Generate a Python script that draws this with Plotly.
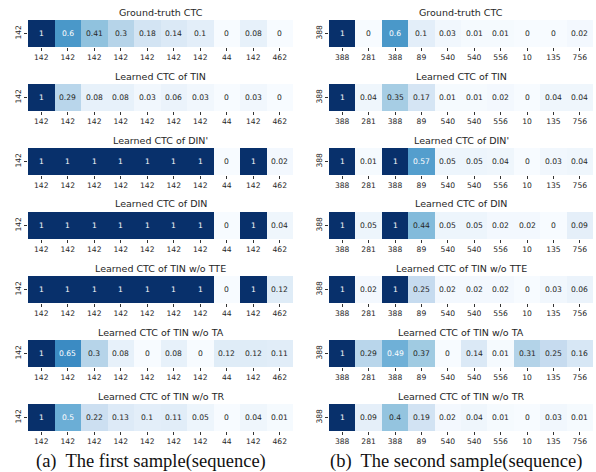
import plotly.graph_objects as go

W, H = 596, 472

titles = [
    "Ground-truth CTC",
    "Learned CTC of TIN",
    "Learned CTC of DIN'",
    "Learned CTC of DIN",
    "Learned CTC of TIN w/o TTE",
    "Learned CTC of TIN w/o TA",
    "Learned CTC of TIN w/o TR",
]

labels_a = ["142", "142", "142", "142", "142", "142", "142", "44", "142", "462"]
labels_b = ["388", "281", "388", "89", "540", "540", "556", "10", "135", "756"]
row_label_a = "142"
row_label_b = "388"

gt_a = [1, 0.6, 0.41, 0.3, 0.18, 0.14, 0.1, 0, 0.08, 0]
tin_a = [1, 0.29, 0.08, 0.08, 0.03, 0.06, 0.03, 0, 0.03, 0]
dinp_a = [1, 1, 1, 1, 1, 1, 1, 0, 1, 0.02]
din_a = [1, 1, 1, 1, 1, 1, 1, 0, 1, 0.04]
notte_a = [1, 1, 1, 1, 1, 1, 1, 0, 1, 0.12]
nota_a = [1, 0.65, 0.3, 0.08, 0, 0.08, 0, 0.12, 0.12, 0.11]
notr_a = [1, 0.5, 0.22, 0.13, 0.1, 0.11, 0.05, 0, 0.04, 0.01]

gt_b = [1, 0, 0.6, 0.1, 0.03, 0.01, 0.01, 0, 0, 0.02]
tin_b = [1, 0.04, 0.35, 0.17, 0.01, 0.01, 0.02, 0, 0.04, 0.04]
dinp_b = [1, 0.01, 1, 0.57, 0.05, 0.05, 0.04, 0, 0.03, 0.04]
din_b = [1, 0.05, 1, 0.44, 0.05, 0.05, 0.02, 0.02, 0, 0.09]
notte_b = [1, 0.02, 1, 0.25, 0.02, 0.02, 0.02, 0, 0.03, 0.06]
nota_b = [1, 0.29, 0.49, 0.37, 0, 0.14, 0.01, 0.31, 0.25, 0.16]
notr_b = [1, 0.09, 0.4, 0.19, 0.02, 0.04, 0.01, 0, 0.03, 0.01]

series_a = [gt_a, tin_a, dinp_a, din_a, notte_a, nota_a, notr_a]
series_b = [gt_b, tin_b, dinp_b, din_b, notte_b, nota_b, notr_b]

captions = ["(a)\u00a0 The first sample(sequence)", "(b)\u00a0 The second sample(sequence)"]
caption_cx = [151, 456]

tops = [20, 84, 148, 212, 276, 340, 404]
cell_h = 27
cols_px = [(28, 293), (329, 593)]

fig = go.Figure()
annotations = []
k = 0
for c, (series, labels, rlab) in enumerate([(series_a, labels_a, row_label_a),
                                            (series_b, labels_b, row_label_b)]):
    x0, x1 = cols_px[c]
    for r, vals in enumerate(series):
        k += 1
        xa = "x" if k == 1 else f"x{k}"
        ya = "y" if k == 1 else f"y{k}"
        xkey = "xaxis" if k == 1 else f"xaxis{k}"
        ykey = "yaxis" if k == 1 else f"yaxis{k}"
        t = tops[r]
        fig.add_trace(go.Heatmap(
            z=[vals], x=list(range(len(vals))), y=[0],
            colorscale="Blues", zmin=0, zmax=1, showscale=False,
            xaxis=xa, yaxis=ya, xgap=0, ygap=0, hoverinfo="skip"))
        fig.layout[xkey] = dict(
            domain=[x0 / W, x1 / W], anchor=ya, range=[-0.5, len(vals) - 0.5],
            tickmode="array", tickvals=list(range(len(vals))), ticktext=labels,
            ticks="outside", ticklen=3, tickwidth=1, tickcolor="#333",
            tickfont=dict(family="DejaVu Sans", size=7.6, color="#262626"),
            showgrid=False, zeroline=False, showline=False, fixedrange=True)
        fig.layout[ykey] = dict(
            domain=[1 - (t + cell_h) / H, 1 - t / H], anchor=xa, range=[-0.5, 0.5],
            tickmode="array", tickvals=[0], ticktext=[rlab], tickangle=-90,
            ticks="outside", ticklen=3, tickwidth=1, tickcolor="#333",
            tickfont=dict(family="DejaVu Sans", size=7.6, color="#262626"),
            showgrid=False, zeroline=False, showline=False, fixedrange=True)
        for i, v in enumerate(vals):
            annotations.append(dict(
                x=i, y=0, xref=xa, yref=ya, text=f"{v:g}", showarrow=False,
                xanchor="center", yanchor="middle",
                font=dict(family="DejaVu Sans", size=7.6,
                          color="#ffffff" if v >= 0.45 else "#262626")))
        annotations.append(dict(
            x=(x0 + x1) / 2 / W, y=1 - (t - 8) / H, xref="paper", yref="paper",
            text=titles[r], showarrow=False, xanchor="center", yanchor="middle",
            font=dict(family="DejaVu Sans", size=9.5, color="#262626")))
    annotations.append(dict(
        x=caption_cx[c] / W, y=1 - 461 / H, xref="paper", yref="paper",
        text=captions[c], showarrow=False, xanchor="center", yanchor="middle",
        font=dict(family="Liberation Serif", size=18.5, color="#111")))

fig.update_layout(
    width=W, height=H, margin=dict(l=0, r=0, t=0, b=0),
    paper_bgcolor="white", plot_bgcolor="white",
    annotations=annotations, showlegend=False)

fig.write_html("out.html", config={"displayModeBar": False},
               post_script="document.body.style.margin='0';")
